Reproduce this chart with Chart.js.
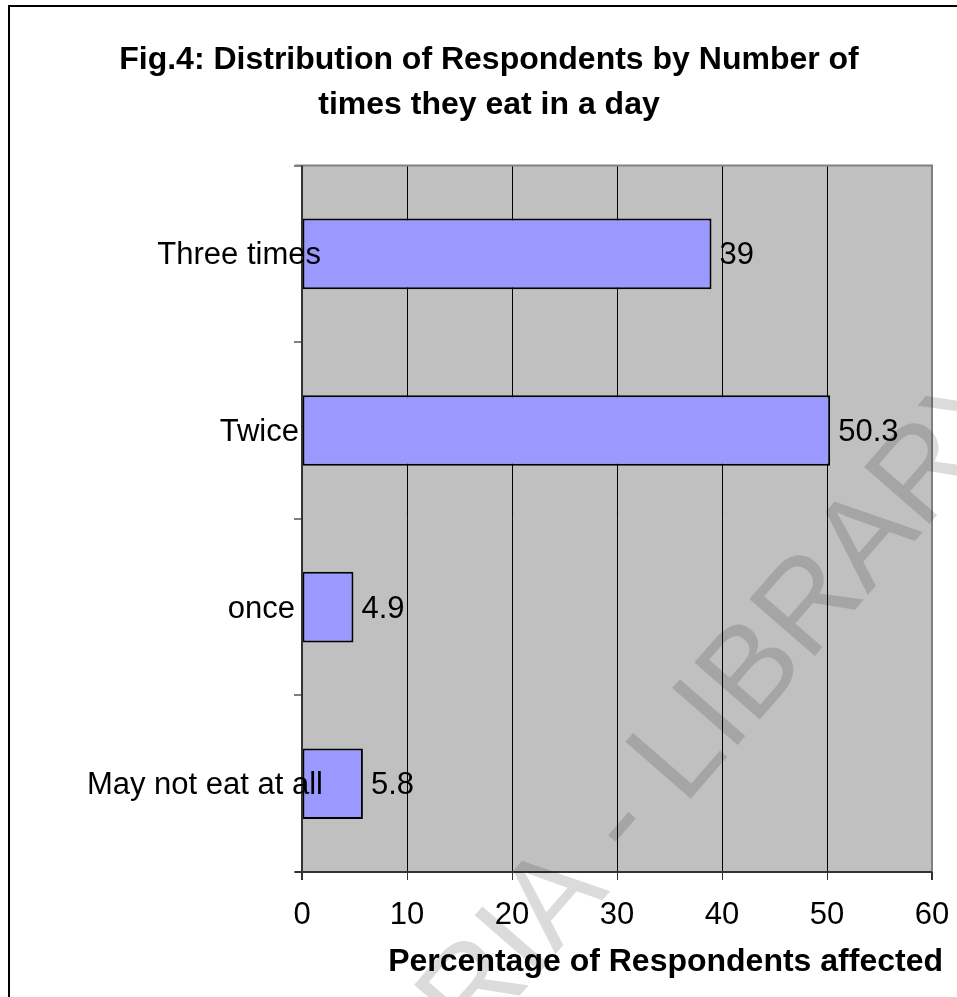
<!DOCTYPE html>
<html>
<head>
<meta charset="utf-8">
<script src="https://cdn.jsdelivr.net/npm/chart.js@4.4.1/dist/chart.umd.min.js"></script>
<style>
  html, body { margin: 0; padding: 0; background: #fff; }
  #wrap { width: 957px; height: 997px; }
</style>
</head>
<body>
<div id="wrap"><canvas id="c" width="957" height="997"></canvas></div>
<script>
// Meals per day, top to bottom
const categories = ['Three times', 'Twice', 'once', 'May not eat at all'];
const percentages = [39, 50.3, 4.9, 5.8];
const xTicks = [0, 10, 20, 30, 40, 50, 60];

const titleLines = ['Fig.4: Distribution of Respondents by Number of', 'times they eat in a day'];
const xAxisTitle = 'Percentage of Respondents affected';
const watermark = ['CODESRIA', 'LIBRARY'];

const FONT = '"Liberation Sans", Arial, Helvetica, sans-serif';
const TEXT_PX = 31;
// small horizontal nudges of the category names, relative to the axis line
const labelNudge = [19, -3, -7, 21];

const pagePlugin = {
  id: 'page',
  beforeDraw(chart) {
    const { ctx, chartArea: a } = chart;
    ctx.save();
    ctx.fillStyle = '#fff';
    ctx.fillRect(0, 0, chart.width, chart.height);
    // outer frame
    ctx.strokeStyle = '#000';
    ctx.lineWidth = 2;
    ctx.strokeRect(9, 6, chart.width + 20, chart.height + 20);
    // plot background
    ctx.fillStyle = '#C0C0C0';
    ctx.fillRect(a.left, a.top, a.right - a.left, a.bottom - a.top);
    ctx.restore();
  },
  afterDatasetsDraw(chart) {
    const { ctx, chartArea: a } = chart;
    const ys = chart.scales.y;
    ctx.save();
    // plot frame: grey top/right, dark axes left/bottom
    ctx.lineWidth = 2;
    ctx.strokeStyle = '#808080';
    ctx.beginPath();
    ctx.moveTo(a.left - 7, a.top); ctx.lineTo(a.right, a.top);
    ctx.lineTo(a.right, a.bottom);
    ctx.stroke();
    ctx.strokeStyle = '#333';
    ctx.beginPath();
    ctx.moveTo(a.left, a.top); ctx.lineTo(a.left, a.bottom + 8);
    ctx.moveTo(a.left - 7, a.bottom); ctx.lineTo(a.right, a.bottom);
    ctx.moveTo(a.right, a.bottom); ctx.lineTo(a.right, a.bottom + 8);
    ctx.stroke();

    // category names, drawn over the plot edge
    ctx.fillStyle = '#000';
    ctx.font = TEXT_PX + 'px ' + FONT;
    ctx.textAlign = 'right';
    ctx.textBaseline = 'middle';
    categories.forEach((c, i) => {
      ctx.fillText(c, a.left + labelNudge[i], ys.getPixelForValue(i) + 2);
    });

    // value labels next to the bar ends
    ctx.textAlign = 'left';
    const meta = chart.getDatasetMeta(0);
    meta.data.forEach((bar, i) => {
      ctx.fillText(String(percentages[i]), bar.x + 8, bar.y + 2);
    });

    // x axis title
    ctx.font = 'bold 32px ' + FONT;
    ctx.textAlign = 'right';
    ctx.fillText(xAxisTitle, a.right + 11, 962);
    ctx.restore();
  },
  afterDraw(chart) {
    const { ctx } = chart;
    ctx.save();
    ctx.translate(621, 826);
    ctx.rotate(-49 * Math.PI / 180);
    ctx.fillStyle = 'rgba(0,0,0,0.14)';
    ctx.font = '126px ' + FONT;
    ctx.textBaseline = 'middle';
    ctx.textAlign = 'center';
    ctx.fillText('-', 0, 0);
    const half = ctx.measureText('-').width / 2;
    const sp = ctx.measureText(' ').width;
    ctx.textAlign = 'right';
    ctx.fillText(watermark[0], -half - sp, 0);
    ctx.textAlign = 'left';
    ctx.fillText(watermark[1], half + sp, 0);
    ctx.restore();
  }
};

new Chart(document.getElementById('c'), {
  type: 'bar',
  data: {
    labels: categories,
    datasets: [{
      data: percentages,
      backgroundColor: '#9999FF',
      borderColor: '#000',
      borderWidth: 2,
      borderSkipped: false,
      barPercentage: 0.4,
      categoryPercentage: 1.0
    }]
  },
  options: {
    indexAxis: 'y',
    responsive: false,
    animation: false,
    devicePixelRatio: 1,
    layout: { padding: { left: 46, right: 25, top: 0, bottom: 0 } },
    plugins: {
      legend: { display: false },
      tooltip: { enabled: false },
      title: {
        display: true,
        text: titleLines,
        color: '#000',
        font: { family: FONT, size: 32, weight: 'bold', lineHeight: 1.4 },
        padding: { top: 38, bottom: 38 }
      }
    },
    scales: {
      y: {
        type: 'category',
        position: 'left',
        grid: { offset: true, drawOnChartArea: false, color: '#808080', lineWidth: 2, tickLength: 8 },
        border: { display: false },
        ticks: { display: false },
        afterFit(s) { s.width = 256; }
      },
      x: {
        type: 'linear',
        position: 'bottom',
        min: xTicks[0],
        max: xTicks[xTicks.length - 1],
        afterBuildTicks(s) { s.ticks = xTicks.map(v => ({ value: v })); },
        grid: { color: '#000', lineWidth: 1, tickLength: 8, tickColor: '#333' },
        border: { display: false },
        ticks: { color: '#000', font: { family: FONT, size: TEXT_PX }, padding: 17, maxRotation: 0 },
        afterFit(s) { s.height = 125; s.paddingLeft = 0; s.paddingRight = 0; }
      }
    }
  },
  plugins: [pagePlugin]
});
</script>
</body>
</html>
